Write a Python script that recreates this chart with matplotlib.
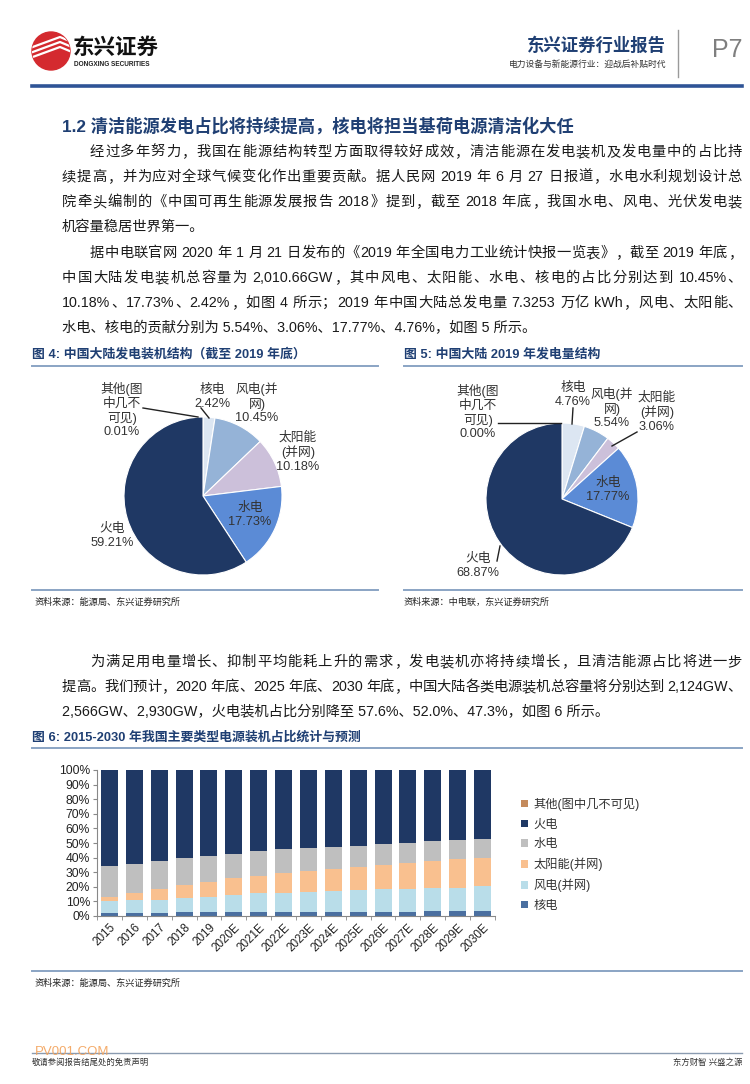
import re
import numpy as np
import matplotlib
matplotlib.use('Agg')
import matplotlib.pyplot as plt
from matplotlib.patches import Circle
from matplotlib.ticker import PercentFormatter, FixedLocator

W, H = 750, 1084
plt.rcParams['font.family'] = ['Liberation Sans', 'Noto Sans CJK SC', 'DejaVu Sans']

NAVY = '#1f3864'
HEAD_BLUE = '#1f3f73'
RULE = '#8aa4c4'
TXT = '#1a1a1a'

# ---- pie data (fig 4 / fig 5) ----
pie_labels = ['其他(图\n中几不\n可见)', '核电', '风电(并\n网)', '太阳能\n(并网)', '水电', '火电']
cap_2019 = [0.01, 2.42, 10.45, 10.18, 17.73, 59.21]
gen_2019 = [0.00, 4.76, 5.54, 3.06, 17.77, 68.87]
pie_colors = ['#dce6f2', '#dce6f2', '#95b3d7', '#ccc0da', '#5b8bd6', '#1f3864']

# ---- bar data (fig 6), percent of installed capacity ----
years = ['2015', '2016', '2017', '2018', '2019', '2020E', '2021E', '2022E',
         '2023E', '2024E', '2025E', '2026E', '2027E', '2028E', '2029E', '2030E']
nuclear = [1.8, 2.0, 2.0, 2.4, 2.42, 2.4, 2.4, 2.5, 2.5, 2.5, 2.5, 2.6, 3.0, 3.1, 3.2, 3.3]
wind = [8.6, 9.0, 9.2, 9.7, 10.45, 12.2, 13.4, 13.5, 13.6, 14.5, 15.3, 15.8, 15.6, 15.8, 16.3, 17.3]
solar = [2.8, 4.7, 7.3, 9.2, 10.18, 11.4, 11.7, 13.3, 14.9, 15.5, 15.8, 16.6, 17.8, 19.1, 19.4, 19.4]
hydro = [20.9, 20.2, 19.3, 18.5, 17.73, 16.4, 16.7, 16.3, 15.3, 14.7, 14.4, 14.3, 13.7, 13.4, 13.2, 12.7]
thermal = [65.7, 64.0, 62.2, 60.2, 59.21, 57.6, 55.8, 54.4, 53.8, 52.8, 52.0, 50.7, 49.9, 48.6, 47.9, 47.3]
other = [0.2, 0.1, 0.0, 0.0, 0.01, 0.0, 0.0, 0.0, 0.0, 0.0, 0.0, 0.0, 0.0, 0.0, 0.0, 0.0]
bar_names = ['核电', '风电(并网)', '太阳能(并网)', '水电', '火电', '其他(图中几不可见)']
bar_colors = ['#4a6fa0', '#b9dde9', '#f9c08f', '#bfbfbf', '#1f3864', '#c48a5c']

# ---- text ----
para1 = ['经过多年努力，我国在能源结构转型方面取得较好成效，清洁能源在发电装机及发电量中的占比持',
         '续提高，并为应对全球气候变化作出重要贡献。据人民网 2019 年 6 月 27 日报道，水电水利规划设计总',
         '院牵头编制的《中国可再生能源发展报告 2018》提到，截至 2018 年底，我国水电、风电、光伏发电装',
         '机容量稳居世界第一。']
para2 = ['据中电联官网 2020 年 1 月 21 日发布的《2019 年全国电力工业统计快报一览表》，截至 2019 年底，',
         '中国大陆发电装机总容量为 2,010.66GW，其中风电、太阳能、水电、核电的占比分别达到 10.45%、',
         '10.18%、17.73%、2.42%，如图 4 所示；2019 年中国大陆总发电量 7.3253 万亿 kWh，风电、太阳能、',
         '水电、核电的贡献分别为 5.54%、3.06%、17.77%、4.76%，如图 5 所示。']
para3 = ['为满足用电量增长、抑制平均能耗上升的需求，发电装机亦将持续增长，且清洁能源占比将进一步',
         '提高。我们预计，2020 年底、2025 年底、2030 年底，中国大陆各类电源装机总容量将分别达到 2,124GW、',
         '2,566GW、2,930GW，火电装机占比分别降至 57.6%、52.0%、47.3%，如图 6 所示。']

fig = plt.figure(figsize=(W / 100, H / 100), dpi=100)
ov = fig.add_axes([0, 0, 1, 1])
ov.set_xlim(0, W)
ov.set_ylim(H, 0)
ov.axis('off')
ov.set_zorder(10)  # overlay drawn above pies and bars
renderer = fig.canvas.get_renderer()


def justify(line, x0, x1, y, fs=10.3):
    em = fs * 100 / 72
    toks = re.findall(r'[A-Za-z0-9.,%]+| |.', line)
    items = []
    for t in toks:
        if t == ' ':
            items.append((None, em * 0.25))
        elif ord(t[0]) > 0x2E80:
            items.append((ov.text(0, y, t, fontsize=fs, color=TXT, va='center'), em))
        else:
            tx = ov.text(0, y, t, fontsize=fs, color=TXT, va='center')
            items.append((tx, tx.get_window_extent(renderer).width))
    total = sum(w for _, w in items)
    gap = (x1 - x0 - total) / max(len(items) - 1, 1)
    x = x0
    for tx, w in items:
        if tx is not None:
            tx.set_x(x)
        x += w + gap


def paragraph(lines, y0, dy=25):
    for i, ln in enumerate(lines):
        x0 = 90 if i == 0 else 62
        y = y0 + i * dy
        if i < len(lines) - 1:
            justify(ln, x0, 742, y)
        else:
            ov.text(x0, y, ln, fontsize=10.3, color=TXT, va='center')


# ---- header ----
logo = Circle((51, 51), 19, color='#d42a2f')
ov.add_patch(logo)
for k in range(3):
    ln, = ov.plot([30, 60, 72], [58 - 5 * k, 47 - 5 * k, 52 - 5 * k], color='white', lw=1.6)
    ln.set_clip_path(logo)
ov.text(73, 48, '东兴证券', fontsize=15.5, fontweight='bold', color='#111111', va='center')
ov.text(74, 65, 'DONGXING SECURITIES', fontsize=4.7, fontweight='bold', color='#222222', va='center')
ov.text(666, 45, '东兴证券行业报告', fontsize=12.5, fontweight='bold', color=HEAD_BLUE,
        ha='right', va='center')
ov.text(666, 64, '电力设备与新能源行业：迎战后补贴时代', fontsize=6.3, color='#333333',
        ha='right', va='center')
ov.plot([678, 678], [30, 77], color='#9a9a9a', lw=1)
ov.text(742, 50, 'P7', fontsize=18, color='#7f7f7f', ha='right', va='center')
ov.plot([32, 742], [86, 86], color='#2f5496', lw=2.6)

ov.text(62, 126, '1.2 清洁能源发电占比将持续提高，核电将担当基荷电源清洁化大任',
        fontsize=12.4, fontweight='bold', color=HEAD_BLUE, va='center')
paragraph(para1, 152)
paragraph(para2, 253)

# ---- figure titles & rules ----
ov.text(32, 354, '图 4: 中国大陆发电装机结构（截至 2019 年底）', fontsize=9.3,
        fontweight='bold', color=HEAD_BLUE, va='center')
ov.text(404, 354, '图 5: 中国大陆 2019 年发电量结构', fontsize=9.3,
        fontweight='bold', color=HEAD_BLUE, va='center')
for xa, xb in [(32, 378), (404, 742)]:
    ov.plot([xa, xb], [366, 366], color=RULE, lw=1.4)
    ov.plot([xa, xb], [590, 590], color=RULE, lw=1.4)
ov.text(35, 602, '资料来源：能源局、东兴证券研究所', fontsize=6.6, style='italic',
        color='#222222', va='center')
ov.text(404, 602, '资料来源：中电联，东兴证券研究所', fontsize=6.6, style='italic',
        color='#222222', va='center')


def draw_pie(cx, cy, r, vals):
    ax = fig.add_axes([(cx - r) / W, 1 - (cy + r) / H, 2 * r / W, 2 * r / H])
    ax.pie(vals, colors=pie_colors, startangle=90, counterclock=False,
           wedgeprops=dict(edgecolor='white', linewidth=0.8))
    ax.set_xlim(-1, 1)
    ax.set_ylim(-1, 1)
    ax.axis('off')


draw_pie(203, 496, 79, cap_2019)
draw_pie(562, 499, 76, gen_2019)

LBL = dict(fontsize=9.2, color='#333333', ha='center', va='center', linespacing=1.2)
pos4 = [(122, 410), (212, 397), (257, 403), (298, 452), (250, 515), (112, 536)]
for (x, y), lab, v in zip(pos4, pie_labels, cap_2019):
    ov.text(x, y, f'{lab}\n{v:.2f}%', **LBL)
ov.plot([143, 198], [408, 417], color='#222222', lw=1)
ov.plot([201, 209], [408, 418], color='#222222', lw=1)

pos5 = [(478, 412), (573, 395), (612, 408), (657, 412), (608, 490), (478, 566)]
for (x, y), lab, v in zip(pos5, pie_labels, gen_2019):
    ov.text(x, y, f'{lab}\n{v:.2f}%', **LBL)
ov.plot([498, 561], [423, 423], color='#222222', lw=1)
ov.plot([573, 572], [408, 424], color='#222222', lw=1)
ov.plot([637, 612], [432, 446], color='#222222', lw=1)
ov.plot([497, 500], [561, 546], color='#222222', lw=1)

# ---- paragraph 3 & fig 6 ----
paragraph(para3, 662)
ov.text(32, 737, '图 6: 2015-2030 年我国主要类型电源装机占比统计与预测', fontsize=9.3,
        fontweight='bold', color=HEAD_BLUE, va='center')
ov.plot([32, 742], [748, 748], color=RULE, lw=1.4)
ov.plot([32, 742], [971, 971], color=RULE, lw=1.4)
ov.text(35, 983, '资料来源：能源局、东兴证券研究所', fontsize=6.6, style='italic',
        color='#222222', va='center')

bx = fig.add_axes([97 / W, 1 - 916 / H, 398 / W, 146 / H])
xs = np.arange(len(years))
bottom = np.zeros(len(years))
handles = []
for name, vals, col in zip(bar_names, [nuclear, wind, solar, hydro, thermal, other], bar_colors):
    v = np.array(vals) / 100
    b = bx.bar(xs, v, 0.68, bottom=bottom, color=col, label=name)
    handles.append(b)
    bottom += v
bx.set_xlim(-0.5, len(years) - 0.5)
bx.set_ylim(0, 1)
bx.set_yticks(np.linspace(0, 1, 11))
bx.yaxis.set_major_formatter(PercentFormatter(1.0, decimals=0))
bx.set_xticks(xs)
bx.set_xticklabels(years, rotation=45, ha='right', rotation_mode='anchor', fontsize=8.4)
bx.xaxis.set_minor_locator(FixedLocator(np.arange(-0.5, len(years), 1)))
bx.tick_params(axis='x', which='major', length=0, pad=4, colors='#222222')
bx.tick_params(axis='x', which='minor', length=3, color='#888888')
bx.tick_params(axis='y', length=3, color='#888888', labelsize=8.7, labelcolor='#222222', pad=2)
for s in ['top', 'right']:
    bx.spines[s].set_visible(False)
for s in ['left', 'bottom']:
    bx.spines[s].set_color('#888888')
    bx.spines[s].set_linewidth(0.8)

leg = fig.legend(handles[::-1], bar_names[::-1], loc='upper left',
                 bbox_to_anchor=(510 / W, 1 - 787 / H), frameon=False, fontsize=8.8,
                 handlelength=0.55, handleheight=0.55, handletextpad=0.45, labelspacing=0.62)
for t in leg.get_texts():
    t.set_color('#333333')

# ---- footer ----
ov.plot([32, 742], [1053, 1053], color='#8a9bb0', lw=1)
ov.text(35, 1052, 'PV001.COM', fontsize=9.5, color='#f3a25a', va='center', alpha=0.9)
ov.text(32, 1063, '敬请参阅报告结尾处的免责声明', fontsize=6, color='#333333', va='center')
ov.text(742, 1063, '东方财智 兴盛之源', fontsize=6, color='#333333', va='center', ha='right')

fig.savefig('out.png', dpi=100)
